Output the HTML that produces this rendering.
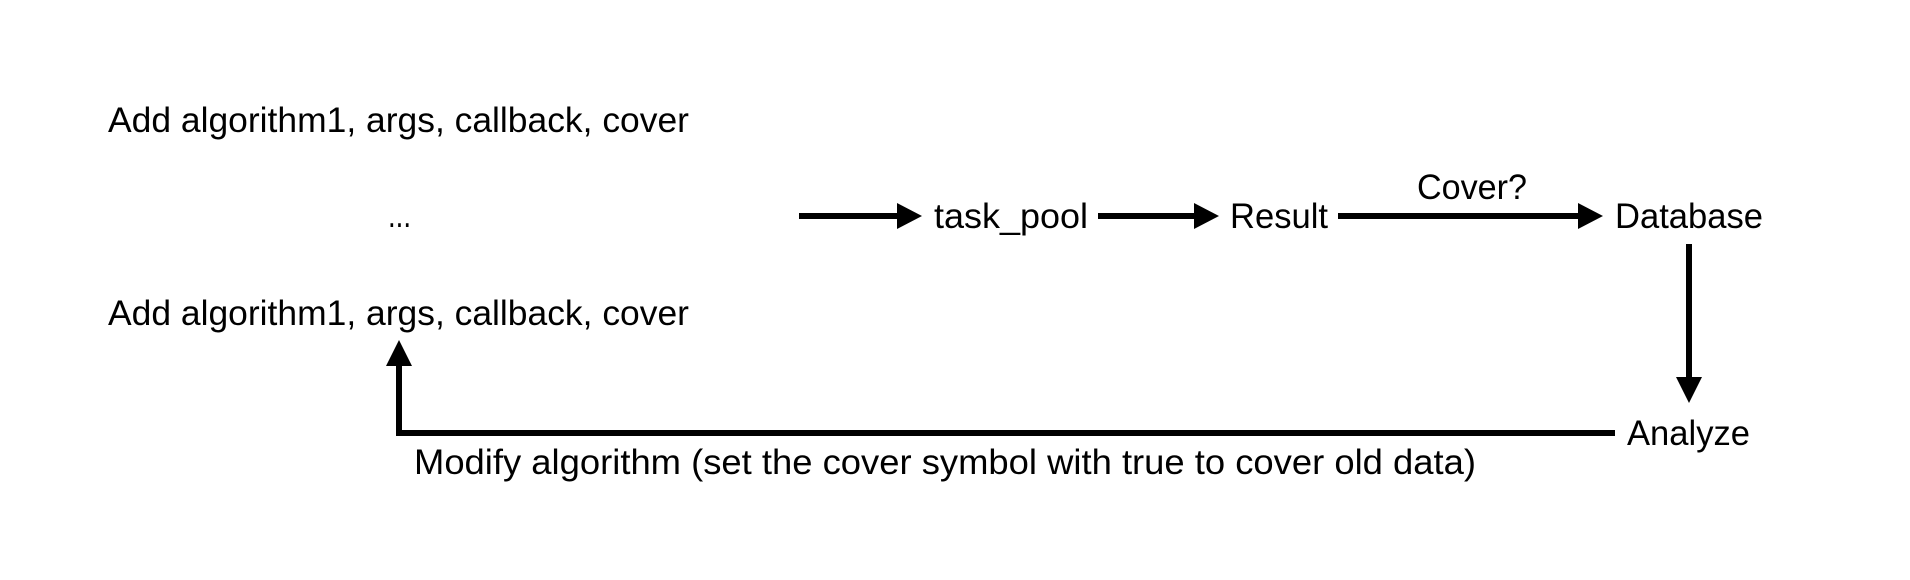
<!DOCTYPE html>
<html><head><meta charset="utf-8"><style>
html,body{margin:0;padding:0;background:#fff;width:1910px;height:580px;overflow:hidden}
svg text{font-family:"Liberation Sans",sans-serif;font-size:35px;fill:#000}
</style></head><body>
<svg width="1910" height="580" xmlns="http://www.w3.org/2000/svg">
<rect width="1910" height="580" fill="#fff"/>
<text x="108" y="132" textLength="581" lengthAdjust="spacingAndGlyphs">Add algorithm1, args, callback, cover</text>
<text x="388" y="227" textLength="23" lengthAdjust="spacingAndGlyphs">...</text>
<text x="108" y="325" textLength="581" lengthAdjust="spacingAndGlyphs">Add algorithm1, args, callback, cover</text>
<text x="934" y="228" textLength="154" lengthAdjust="spacingAndGlyphs">task_pool</text>
<text x="1230" y="228" textLength="98" lengthAdjust="spacingAndGlyphs">Result</text>
<text x="1417" y="199" textLength="110" lengthAdjust="spacingAndGlyphs">Cover?</text>
<text x="1615" y="228" textLength="148" lengthAdjust="spacingAndGlyphs">Database</text>
<text x="1627" y="445" textLength="123" lengthAdjust="spacingAndGlyphs">Analyze</text>
<text x="414" y="474" textLength="1062" lengthAdjust="spacingAndGlyphs">Modify algorithm (set the cover symbol with true to cover old data)</text>
<g stroke="#000" stroke-width="6" fill="none">
<line x1="799" y1="216" x2="900" y2="216"/>
<line x1="1098" y1="216" x2="1196" y2="216"/>
<line x1="1338" y1="216" x2="1580" y2="216"/>
<line x1="1689" y1="244" x2="1689" y2="380"/>
<polyline points="1615,433 399,433 399,363"/>
</g>
<g fill="#000">
<polygon points="897,203 922,216 897,229"/>
<polygon points="1194,203 1219,216 1194,229"/>
<polygon points="1578,203 1603,216 1578,229"/>
<polygon points="1676,377 1702,377 1689,403"/>
<polygon points="386,366 412,366 399,340"/>
</g>
</svg>
</body></html>
